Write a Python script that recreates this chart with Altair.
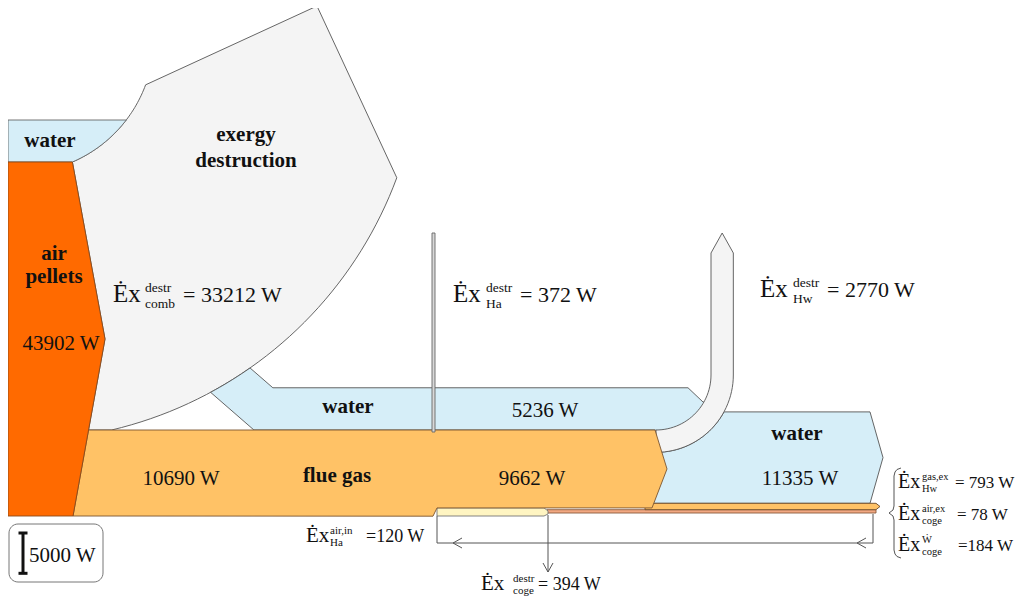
import numpy as np
import pandas as pd
import altair as alt

# ---- exergy flows (W) ----
flow_names = ["air_pellets", "destr_comb", "flue_gas_in", "flue_gas_out",
              "water_Ha", "water_Hw", "destr_Ha", "destr_Hw",
              "air_in_Ha", "destr_coge", "gas_ex_Hw", "air_ex_coge", "W_coge"]
flow_values = [43902, 33212, 10690, 9662, 5236, 11335, 372, 2770, 120, 394, 793, 78, 184]
scale_bar_value = 5000

V = dict(zip(flow_names, flow_values))

# ---- layout: band thickness proportional to exergy ----
P = 354.0 / 43902.0          # pixels per W
LEFT, BASE = 8.0, 516.0
air_top = BASE - V["air_pellets"] * P
tip_y = (air_top + BASE) / 2
CX, CY = 19.0, 38.0
R_IN = 135.0
R_OUT = R_IN + V["destr_comb"] * P
FLUE_TOP = 430.0
flue_out_bot = FLUE_TOP + V["flue_gas_out"] * P
flue_in_bot = FLUE_TOP + V["flue_gas_in"] * P
water_Ha_top = FLUE_TOP - V["water_Ha"] * P
WB = 503.3
water_Hw_top = WB - V["water_Hw"] * P
BCX, BCY = 656.0, FLUE_TOP - 55.0
B_RIN = 55.0
B_ROUT = B_RIN + V["destr_Hw"] * P


def arc(cx, cy, r, a0, a1, n=40):
    a = np.radians(np.linspace(a0, a1, n))
    return list(zip(cx + r * np.cos(a), cy + r * np.sin(a)))


def ang_at_y(cy, r, y):
    return np.degrees(np.arcsin((y - cy) / r))


def edge_x(p0, p1, y):
    (x0, y0), (x1, y1) = p0, p1
    return x0 + (x1 - x0) * (y - y0) / (y1 - y0)


a_start = ang_at_y(CY, R_IN, air_top)
orange_tr = arc(CX, CY, R_IN, a_start, a_start, 1)[0]
orange_tip = (105.0, tip_y)
orange_br = (73.0, BASE)
x_or_430 = edge_x(orange_tip, orange_br, FLUE_TOP)

shapes = []  # (name, points, fill, stroke)

# exergy destruction (combustion)
a_top = 20.3
a_end = ang_at_y(CY, R_OUT, FLUE_TOP)
destr = (arc(CX, CY, R_IN, a_start, a_top) + [(317.0, 6.0)] +
         arc(CX, CY, R_OUT, a_top, a_end) + [(x_or_430, FLUE_TOP), orange_tip, orange_tr])
shapes.append(("destr", destr, "#F4F4F4", "#555555"))

# inlet water
w_top = air_top - 42.0
a_w = ang_at_y(CY, R_IN, w_top)
water_in = [(LEFT, w_top)] + arc(CX, CY, R_IN, a_w, a_start) + [(LEFT, air_top), (LEFT, w_top)]
shapes.append(("water_in", water_in, "#D6EEF8", "#666666"))

# right water (heat exchanger Hw)
a_rw = ang_at_y(BCY, B_ROUT, water_Hw_top)
water_r = (arc(BCX, BCY, B_ROUT, a_rw, 90, 20) + [(650.0, BCY + B_ROUT), (650.0, WB), (870.0, WB),
           (883.0, (WB + water_Hw_top) / 2), (870.0, water_Hw_top)] + arc(BCX, BCY, B_ROUT, a_rw, a_rw, 1))
shapes.append(("water_r", water_r, "#D6EEF8", "#555555"))

# water through Ha
A = arc(CX, CY, R_OUT, 55.0, 55.0, 1)[0]
B = arc(CX, CY, R_OUT, 61.6, 61.6, 1)[0]
t41 = np.tan(np.radians(41))
A2 = (A[0] + (water_Ha_top - A[1]) / t41, water_Ha_top)
B2 = (B[0] + (FLUE_TOP - B[1]) / t41, FLUE_TOP)
water_ha = ([A, A2, (688.0, water_Ha_top), (703.0, 402.0), (720.0, 405.0), (690.0, 440.0),
             (655.0, FLUE_TOP), B2] + arc(CX, CY, R_OUT, 61.6, 55.0, 10))
shapes.append(("water_ha", water_ha, "#D6EEF8", "#555555"))

# exhaust strips
ex_bot = WB + V["gas_ex_Hw"] * P
sal_bot = ex_bot + (V["air_ex_coge"] + V["W_coge"]) * P + 1.2
salmon = [(547.0, ex_bot), (876.0, ex_bot), (876.0, sal_bot), (547.0, sal_bot), (547.0, ex_bot)]
shapes.append(("salmon", salmon, "#F2A882", "#8A5A3A"))
exhaust = [(645.0, WB), (876.0, WB), (880.0, (WB + ex_bot) / 2), (876.0, ex_bot), (645.0, ex_bot), (645.0, WB)]
shapes.append(("exhaust", exhaust, "#FFC266", "#6B4A2A"))
pale = [(437.0, flue_out_bot), (544.0, flue_out_bot), (548.0, flue_out_bot + 3),
        (548.0, BASE - 2), (544.0, BASE), (437.0, BASE), (437.0, flue_out_bot)]
shapes.append(("pale", pale, "#FFF5C2", "#777777"))

# bend of Hw exergy destruction (arrow up)
x_in = BCX + B_RIN
x_out = BCX + B_ROUT
bend = (arc(BCX, BCY, B_RIN, 0, 90, 30) + arc(BCX, BCY, B_ROUT, 90, 0, 30) +
        [(x_out, 253.0), ((x_in + x_out) / 2, 233.0), (x_in, 253.0), (x_in, BCY)])
shapes.append(("bend", bend, "#F4F4F4", "#555555"))

# flue gas
flue = [(x_or_430, FLUE_TOP), (655.0, FLUE_TOP), (667.0, (FLUE_TOP + flue_out_bot) / 2),
        (652.0, flue_out_bot), (437.0, flue_out_bot), (433.0, flue_in_bot), (73.0, BASE), (x_or_430, FLUE_TOP)]
shapes.append(("flue", flue, "#FFC266", "#7A5530"))

# air + pellets input
orange = [(LEFT, air_top), orange_tr, orange_tip, orange_br, (LEFT, BASE), (LEFT, air_top)]
shapes.append(("orange", orange, "#FF6A00", "#8A4A1A"))

# Ha exergy destruction bar
hw = V["destr_Ha"] * P
ha_bar = [(432.0, 233.0), (432.0 + hw, 233.0), (432.0 + hw, 432.0), (432.0, 432.0), (432.0, 233.0)]
shapes.append(("ha_bar", ha_bar, "#D8D8D8", "#666666"))

xs = alt.Scale(domain=[8, 1016], nice=False, zero=False)
ys = alt.Scale(domain=[8, 600], nice=False, zero=False, reverse=True)


def X(f="x"):
    return alt.X(f + ":Q", scale=xs, axis=None)


def Y(f="y"):
    return alt.Y(f + ":Q", scale=ys, axis=None)


layers = []
for name, pts, fill, stroke in shapes:
    d = pd.DataFrame({"x": [p[0] for p in pts], "y": [p[1] for p in pts], "i": range(len(pts))})
    layers.append(alt.Chart(d).mark_line(fill=fill, stroke=stroke, strokeWidth=0.9)
                  .encode(x=X(), y=Y(), order="i:Q"))

# thin connector lines
def brace():
    return [(901, 468), (897, 469.5), (895, 472), (894, 476), (894, 506), (893, 510), (889, 513),
            (893, 516), (894, 520), (894, 550), (895, 554), (897, 556.5), (901, 558)]

polylines = {
    "loop": [(437, 516), (437, 543), (873, 543), (873, 514)],
    "arrL": [(462, 538), (453, 543), (462, 548)],
    "arrR": [(866, 538), (857, 543), (866, 548)],
    "down": [(548, 515), (548, 572)],
    "downh": [(543, 563), (548, 572), (553, 563)],
    "brace": brace(),
}
rows = []
for k, pts in polylines.items():
    for i, (x, y) in enumerate(pts):
        rows.append({"id": k, "i": i, "x": x, "y": y})
layers.append(alt.Chart(pd.DataFrame(rows)).mark_line(stroke="#555555", strokeWidth=1)
              .encode(x=X(), y=Y(), detail="id:N", order="i:Q"))

# legend box with 5000 W scale bar
box = pd.DataFrame({"x": [9], "x2": [103], "y": [524], "y2": [582]})
layers.append(alt.Chart(box).mark_rect(fill="white", stroke="#777777", strokeWidth=1, cornerRadius=9)
              .encode(x=X(), x2="x2:Q", y=Y(), y2="y2:Q"))
bar_h = scale_bar_value * P
ib_top, ib_bot = 533.0, 533.0 + bar_h
ib = []
for k, pts in {"v": [(23, ib_top), (23, ib_bot)], "t": [(18.5, ib_top), (27.5, ib_top)],
               "b": [(18.5, ib_bot), (27.5, ib_bot)]}.items():
    for i, (x, y) in enumerate(pts):
        ib.append({"id": k, "i": i, "x": x, "y": y})
layers.append(alt.Chart(pd.DataFrame(ib)).mark_line(stroke="#111111", strokeWidth=3)
              .encode(x=X(), y=Y(), detail="id:N", order="i:Q"))

FONT = "'Liberation Serif', 'Times New Roman', Times, 'DejaVu Serif', serif"

bold_texts = pd.DataFrame({
    "t": ["water", "exergy", "destruction", "air", "pellets", "water", "water", "flue gas"],
    "x": [50, 246, 246, 54, 54, 348, 797, 337],
    "y": [147, 141, 167, 260, 283, 413, 440, 482],
})
layers.append(alt.Chart(bold_texts).mark_text(font=FONT, fontSize=21, fontWeight="bold", align="center",
                                              baseline="alphabetic", color="#111111")
              .encode(x=X(), y=Y(), text="t:N"))

reg_texts = pd.DataFrame({
    "t": ["43902 W", "10690 W", "9662 W", "5236 W", "11335 W"],
    "x": [61, 181, 532, 545, 800],
    "y": [350, 485, 485, 417, 485],
})
layers.append(alt.Chart(reg_texts).mark_text(font=FONT, fontSize=21, align="center",
                                             baseline="alphabetic", color="#111111")
              .encode(x=X(), y=Y(), text="t:N"))
layers.append(alt.Chart(pd.DataFrame({"t": ["5000 W"], "x": [29], "y": [562]}))
              .mark_text(font=FONT, fontSize=21, align="left", baseline="alphabetic", color="#111111")
              .encode(x=X(), y=Y(), text="t:N"))

# Ex labels: E position, baseline, superscript, subscript, sup x, rest text, rest x, size class
ex_labels = [
    (113, 302, "destr", "comb", 145, "= 33212 W", 183, "big"),
    (453, 302, "destr", "Ha", 486, "= 372 W", 520, "big"),
    (760, 297, "destr", "Hw", 793, "= 2770 W", 827, "big"),
    (306, 542, "air,in", "Ha", 330, "=120 W", 366, "mid"),
    (481, 590, "destr", "coge", 513, "= 394 W", 538, "mid"),
    (898, 488, "gas,ex", "Hw", 922, "= 793 W", 955, "small"),
    (898, 520, "air,ex", "coge", 922, "= 78 W", 957, "small"),
    (898, 551, "\u1E86", "coge", 922, "=184 W", 958, "small"),
]
fonts = {"big": (25, 22, 13.5, -10, 6), "mid": (21, 18, 11, -8, 4), "small": (20, 17, 10.5, -8, 4)}
main_rows, small_rows = [], []
for xe, yb, sup, sub, xs_, rest, xr, cls in ex_labels:
    fs_e, fs_r, fs_s, dsup, dsub = fonts[cls]
    main_rows.append({"t": "\u0116x", "x": xe, "y": yb, "s": fs_e})
    main_rows.append({"t": rest, "x": xr, "y": yb, "s": fs_r})
    small_rows.append({"t": sup, "x": xs_, "y": yb + dsup, "s": fs_s})
    small_rows.append({"t": sub, "x": xs_, "y": yb + dsub, "s": fs_s})
for rws in (main_rows, small_rows):
    layers.append(alt.Chart(pd.DataFrame(rws)).mark_text(font=FONT, align="left", baseline="alphabetic",
                                                         color="#111111")
                  .encode(x=X(), y=Y(), text="t:N", size=alt.Size("s:Q", scale=None, legend=None)))

chart = (alt.layer(*layers)
         .properties(width=1008, height=592, padding=0, autosize=alt.AutoSizeParams(type="none"))
         .configure_view(stroke=None))

chart.save("out.html", embed_options={"renderer": "svg", "actions": False})
